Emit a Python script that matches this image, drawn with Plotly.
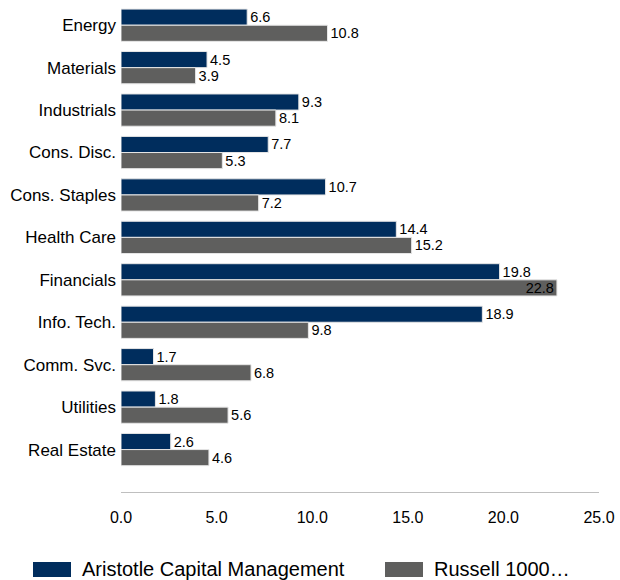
import plotly.graph_objects as go

sectors = ["Energy", "Materials", "Industrials", "Cons. Disc.", "Cons. Staples",
           "Health Care", "Financials", "Info. Tech.", "Comm. Svc.", "Utilities",
           "Real Estate"]
aristotle = [6.6, 4.5, 9.3, 7.7, 10.7, 14.4, 19.8, 18.9, 1.7, 1.8, 2.6]
russell = [10.8, 3.9, 8.1, 5.3, 7.2, 15.2, 22.8, 9.8, 6.8, 5.6, 4.6]
x_ticks = [0, 5, 10, 15, 20, 25]

NAVY = "#002D5D"
GRAY = "#5F5F5E"
FONT = "Liberation Sans, Arial, sans-serif"
X_MAX = 25

# plot-area geometry in pixels (used to place the hand-drawn legend)
L, R, T, B = 121, 599, 4, 492


def positions(vals):
    # labels sit past the bar end unless the bar runs near the axis edge
    return ["inside" if v > 0.88 * X_MAX else "outside" for v in vals]


def px_x(x):
    return (x - L) / (R - L)


def px_y(y):
    return (B - y) / (B - T)


fig = go.Figure()
for name, vals, color in [("Aristotle Capital Management", aristotle, NAVY),
                          ("Russell 1000 Value", russell, GRAY)]:
    fig.add_trace(go.Bar(
        y=sectors, x=vals, orientation="h", name=name,
        marker=dict(color=color, line=dict(color="#E6E6E6", width=1)),
        text=[f"{v:.1f}" for v in vals], textposition=positions(vals),
        insidetextanchor="end", textfont=dict(color="black", size=14.5, family=FONT),
        cliponaxis=False, showlegend=False,
    ))

# legend drawn as swatches + labels below the axis
legend_items = [("Aristotle Capital Management", NAVY, 33),
                ("Russell 1000…", GRAY, 385)]
for label, color, sx in legend_items:
    fig.add_shape(type="rect", xref="paper", yref="paper",
                  x0=px_x(sx), x1=px_x(sx + 38),
                  y0=px_y(577), y1=px_y(562),
                  fillcolor=color, line=dict(width=0))
    fig.add_annotation(xref="paper", yref="paper", x=px_x(sx + 47),
                       y=px_y(569), text=label, showarrow=False,
                       xanchor="left", yanchor="middle",
                       font=dict(size=20, color="black", family=FONT))

fig.update_layout(
    width=620, height=580,
    margin=dict(l=L, r=620 - R, t=T, b=580 - B),
    paper_bgcolor="white", plot_bgcolor="white",
    barmode="group", bargap=0.24, bargroupgap=0.0,
    uniformtext=dict(minsize=14.5, mode="show"),
    font=dict(family=FONT, color="black"),
    xaxis=dict(range=[0, X_MAX], tickvals=x_ticks,
               ticktext=[f"{t:.1f}" for t in x_ticks],
               showgrid=False, zeroline=False, showline=True,
               linecolor="#BFBFBF", linewidth=1, ticks="",
               ticklabelstandoff=11,
               tickfont=dict(size=16, family=FONT, color="black")),
    yaxis=dict(categoryorder="array", categoryarray=sectors,
               range=[11.0, -0.5], showgrid=False, zeroline=False,
               showline=False, ticks="", ticklabelstandoff=4,
               tickfont=dict(size=17, family=FONT, color="black")),
)

fig.write_html("out.html")
